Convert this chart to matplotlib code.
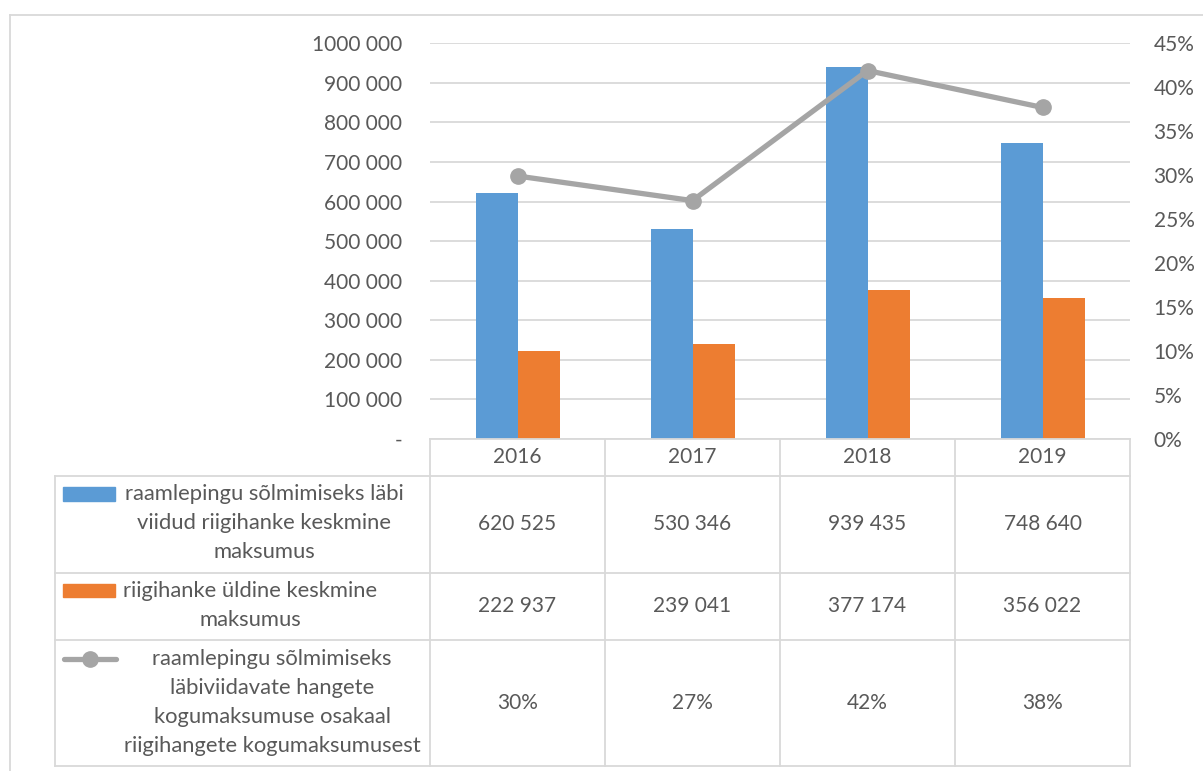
import numpy as np
import matplotlib
matplotlib.use("Agg")
import matplotlib.pyplot as plt
from matplotlib.lines import Line2D
from matplotlib.patches import Rectangle
from matplotlib.ticker import FuncFormatter
import matplotlib.transforms as mtransforms

# Andmed
aastad = ["2016", "2017", "2018", "2019"]
raamleping = [620525, 530346, 939435, 748640]
yldine = [222937, 239041, 377174, 356022]
osakaal = [0.299, 0.271, 0.419, 0.377]
osakaal_tabel = ["30%", "27%", "42%", "38%"]
seeria_nimed = [
    "raamlepingu sõlmimiseks läbi\nviidud riigihanke keskmine\nmaksumus",
    "riigihanke üldine keskmine\nmaksumus",
    "raamlepingu sõlmimiseks\nläbiviidavate hangete\nkogumaksumuse osakaal\nriigihangete kogumaksumusest",
]

# Stiil
sinine = "#5B9BD5"
oranz = "#ED7D31"
hall = "#A5A5A5"
tekst = "#595959"
joon = "#D9D9D9"
plt.rcParams["font.family"] = ["Lato", "DejaVu Sans"]
fs = 15
fs_leg = 15.8

W, H = 1203, 771
def fx(px):
    return px / W
def fy(py):
    return 1 - py / H

fig = plt.figure(figsize=(W / 100, H / 100), dpi=100)

ax = fig.add_axes([fx(430), fy(438.8), 700 / W, 395.5 / H])
x = np.arange(len(aastad))
bw = 0.24
ax.bar(x - bw / 2, raamleping, bw, color=sinine, zorder=2)
ax.bar(x + bw / 2, yldine, bw, color=oranz, zorder=2)
ax.set_xlim(-0.5, 3.5)
ax.set_ylim(0, 1_000_000)
ax.set_yticks(np.arange(0, 1_000_001, 100_000))
ax.yaxis.set_major_formatter(FuncFormatter(
    lambda v, p: "-" if v == 0 else f"{int(v) // 1000} {int(v) % 1000:03d}"))
ax.set_xticks([])
ax.yaxis.grid(True, color=joon, lw=1.3)
ax.set_axisbelow(True)
ax.tick_params(axis="y", length=0, pad=20, labelsize=fs, labelcolor=tekst)
for s in ax.spines.values():
    s.set_visible(False)

ax2 = ax.twinx()
ax2.plot(x, osakaal, color=hall, lw=3.8, marker="o", ms=11, zorder=3)
ax2.set_ylim(0, 0.45)
ax2.set_yticks(np.arange(0, 0.451, 0.05))
ax2.yaxis.set_major_formatter(FuncFormatter(lambda v, p: f"{v * 100:.0f}%"))
ax2.tick_params(axis="y", length=0, pad=17, labelsize=fs, labelcolor=tekst)
for s in ax2.spines.values():
    s.set_visible(False)

# Andmetabel
tr = mtransforms.blended_transform_factory(ax.transData, fig.transFigure)
read = [438.8, 475.5, 572.7, 640.0, 765.7]

def hjoon(x0, x1, y):
    fig.add_artist(Line2D([fx(x0), fx(x1)], [fy(y), fy(y)], color=joon, lw=1.3,
                          transform=fig.transFigure))

hjoon(430, 1130, read[0])
for y in read[1:]:
    hjoon(55, 1130, y)
for i in range(len(aastad) + 1):
    fig.add_artist(Line2D([i - 0.5, i - 0.5], [fy(read[0]), fy(read[-1])], color=joon,
                          lw=1.3, transform=tr))
fig.add_artist(Line2D([fx(55), fx(55)], [fy(read[1]), fy(read[-1])], color=joon,
                      lw=1.3, transform=fig.transFigure))

# veerupäised ja väärtused
for i, a in enumerate(aastad):
    fig.text(i, fy(456.7), a, transform=tr, ha="center", va="center", fontsize=fs, color=tekst)
    fig.text(i, fy(524), f"{raamleping[i]:,}".replace(",", " "), transform=tr,
             ha="center", va="center", fontsize=fs, color=tekst)
    fig.text(i, fy(605.7), f"{yldine[i]:,}".replace(",", " "), transform=tr,
             ha="center", va="center", fontsize=fs, color=tekst)
    fig.text(i, fy(702.7), osakaal_tabel[i], transform=tr,
             ha="center", va="center", fontsize=fs, color=tekst)

# legendi lahtrid
fig.add_artist(Rectangle((fx(63), fy(501)), 52 / W, 14 / H, color=sinine,
                         transform=fig.transFigure))
fig.add_artist(Rectangle((fx(63), fy(597)), 52 / W, 13 / H, color=oranz,
                         transform=fig.transFigure))
fig.add_artist(Line2D([fx(64), fx(116)], [fy(659), fy(659)], color=hall, lw=3.8,
                      solid_capstyle="round", transform=fig.transFigure))
fig.add_artist(Line2D([fx(90)], [fy(659)], color=hall, marker="o", ms=11, lw=0,
                      transform=fig.transFigure))

fig.text(fx(264), fy(523), seeria_nimed[0], ha="center", va="center", fontsize=fs_leg,
         color=tekst, linespacing=1.55)
fig.text(fx(250), fy(605.5), seeria_nimed[1], ha="center", va="center", fontsize=fs_leg,
         color=tekst, linespacing=1.55)
fig.text(fx(272), fy(702.5), seeria_nimed[2], ha="center", va="center", fontsize=fs_leg,
         color=tekst, linespacing=1.55)

# välimine raam
fig.add_artist(Line2D([fx(10), 1], [fy(15), fy(15)], color=joon, lw=1.3,
                      transform=fig.transFigure))
fig.add_artist(Line2D([fx(10), fx(10)], [fy(15), 0], color=joon, lw=1.3,
                      transform=fig.transFigure))

fig.savefig("out.png", dpi=100)
